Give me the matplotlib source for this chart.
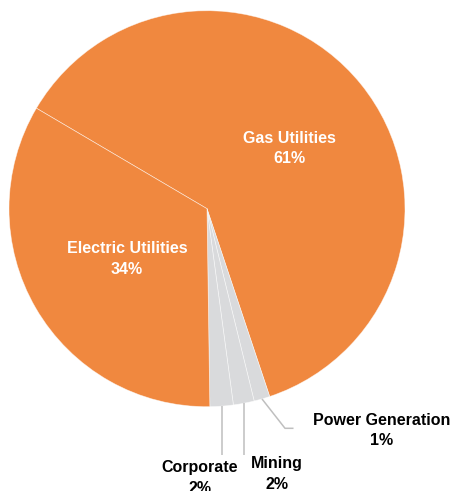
import numpy as np
import matplotlib.pyplot as plt

# segment shares, drawn clockwise from the top-left boundary
segments = ['Gas Utilities', 'Power Generation', 'Mining', 'Corporate', 'Electric Utilities']
shares = [61.4, 1.3, 1.7, 1.9, 33.7]
pct_labels = ['61%', '1%', '2%', '2%', '34%']

ORANGE = '#F0883F'
GRAY = '#D9DADC'
colors = [ORANGE, GRAY, GRAY, GRAY, ORANGE]

W, H = 453, 491
fig = plt.figure(figsize=(W / 100, H / 100), dpi=100)
ax = fig.add_axes([0, 0, 1, 1])

cx, cy, R = 207, H - 208.7, 198
wedges, _ = ax.pie(shares, colors=colors, startangle=149.5, counterclock=False,
                   center=(cx, cy), radius=R,
                   wedgeprops=dict(edgecolor=(1, 1, 1, 0.6), linewidth=0.5))
ax.set_xlim(0, W)
ax.set_ylim(0, H)
ax.set_aspect('equal')
ax.axis('off')

font = dict(family=['Liberation Sans', 'DejaVu Sans'], fontweight='bold', fontsize=11.5,
            ha='center', va='center', linespacing=1.42)

# inner labels (pixel positions from top-left)
inner_pos = {'Gas Utilities': (289, 148.5), 'Electric Utilities': (127, 259)}
# outer labels with leader lines
outer_pos = {'Power Generation': (382, 430.5), 'Mining': (277, 474), 'Corporate': (200, 478)}

for w, name, pct in zip(wedges, segments, pct_labels):
    text = f'{name}\n{pct}'
    if name in inner_pos:
        px, py = inner_pos[name]
        ax.text(px, H - py, text, color='white', **font)
    else:
        px, py = outer_pos[name]
        ax.text(px, H - py, text, color='black', **font)
        mid = np.deg2rad((w.theta1 + w.theta2) / 2)
        ex, ey = cx + R * np.cos(mid), cy + R * np.sin(mid)
        if name == 'Power Generation':
            xs = [ex, 285, 293.5]
            ys = [ey, H - 428.3, H - 428.3]
        else:
            xs = [ex, ex]
            ys = [ey, H - 455]
        ax.plot(xs, ys, color='#BFBFBF', linewidth=1.1, solid_capstyle='butt')

fig.savefig('out.png', dpi=100)
